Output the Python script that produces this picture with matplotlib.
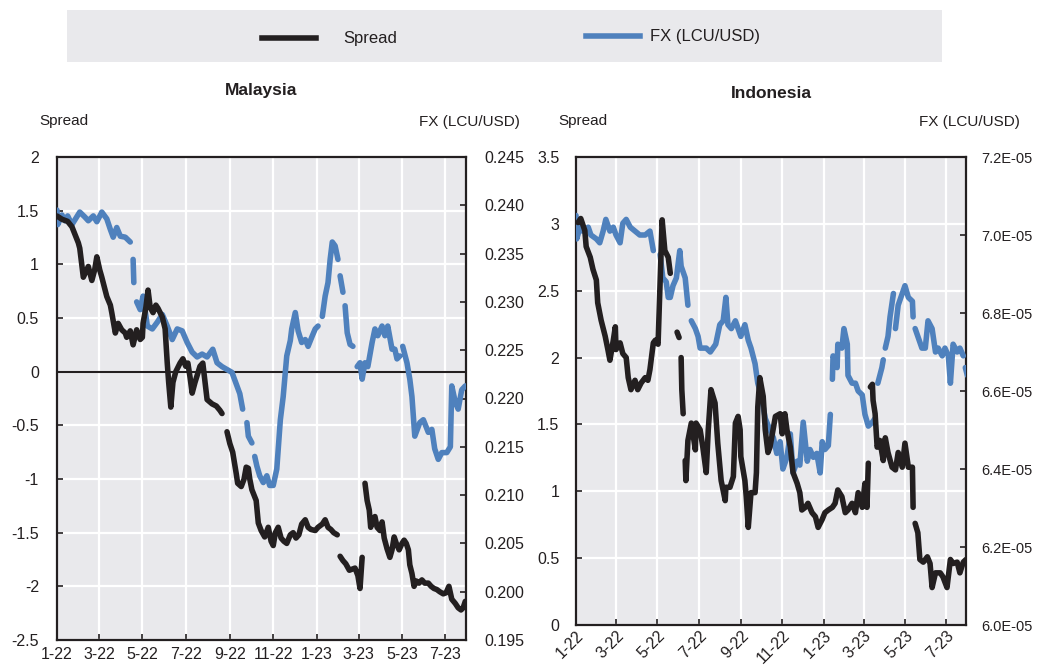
import numpy as np
import pandas as pd
import matplotlib
matplotlib.use('Agg')
import matplotlib.pyplot as plt
import matplotlib.dates as mdates
from matplotlib.ticker import FuncFormatter, FixedLocator
from matplotlib.lines import Line2D
from matplotlib.patches import Rectangle

plt.rcParams['font.family'] = ['Liberation Sans', 'DejaVu Sans']

nan = np.nan
START = pd.Timestamp('2022-01-01')
END = pd.Timestamp('2023-07-30')

# 数据: 2022-01-01 からの日数 と 値
my_spread_day = [0, 7, 15, 21, 30, 32, 37, 44, 49, 53, 56, 60, 63, 70, 75, 77, 82, 86, 91, 96,
                 98, 103, 107, 112, 117, 120, 121, 125, 128, 131, 135, 139, 142, 148, 152, 155, 157, 160, 163, 167,
                 173, 177, 181, 184, 187, 190, 194, 201, 205, 211, 218, 224, 229, 232, 235, 239, 243, 247, 252, 254,
                 259, 263, 266, 269, 271, 274, 280, 283, 287, 292, 297, 301, 304, 307, 311, 315, 319, 323, 328, 332,
                 336, 340, 344, 349, 353, 357, 363, 367, 373, 377, 381, 385, 389, 394, 396, 398, 402, 406, 411, 415,
                 419, 423, 426, 429, 431, 433, 436, 439, 441, 444, 447, 450, 454, 457, 460, 464, 468, 471, 474, 477,
                 481, 485, 488, 491, 494, 496, 499, 502, 505, 509, 513, 517, 522, 526, 530, 534, 538, 543, 547, 551,
                 555, 560, 564, 568, 571, 574]
my_spread = [1.45, 1.42, 1.40, 1.35, 1.20, 1.15, 0.88, 0.98, 0.85, 0.95, 1.07, 0.95, 0.88, 0.70, 0.62, 0.55, 0.36, 0.45, 0.39, 0.36,
             0.32, 0.38, 0.25, 0.39, 0.30, 0.32, 0.45, 0.60, 0.76, 0.60, 0.55, 0.62, 0.59, 0.51, 0.40, 0.08, -0.10, -0.33, -0.10, 0.00,
             0.08, 0.12, 0.05, 0.08, -0.05, -0.20, -0.10, 0.05, 0.08, -0.26, -0.30, -0.32, -0.36, -0.39, nan, -0.56, -0.67, -0.75, -0.95, -1.04,
             -1.07, -1.00, -0.89, -0.90, -1.00, -1.10, -1.20, -1.41, -1.48, -1.54, -1.45, -1.58, -1.62, -1.50, -1.45, -1.55, -1.58, -1.60, -1.52, -1.50,
             -1.55, -1.52, -1.42, -1.38, -1.45, -1.47, -1.48, -1.45, -1.42, -1.38, -1.45, -1.47, -1.50, -1.52, nan, -1.72, -1.76, -1.79, -1.85, -1.84,
             -1.83, -1.90, -2.02, -1.73, nan, -1.04, -1.20, -1.29, -1.45, -1.38, -1.35, -1.45, -1.48, -1.40, -1.55, -1.65, -1.73, -1.66, -1.54, -1.60,
             -1.66, -1.60, -1.57, -1.60, -1.66, -1.80, -1.88, -2.00, -1.95, -1.97, -1.94, -1.97, -1.97, -2.00, -2.02, -2.03, -2.05, -2.07, -2.06, -2.00,
             -2.12, -2.16, -2.20, -2.22, -2.20, -2.14]

my_fx_day = [0, 1, 7, 11, 15, 21, 32, 39, 44, 51, 56, 63, 70, 75, 79, 84, 89, 96, 103, 105,
             107, 108, 110, 112, 117, 121, 127, 134, 141, 148, 155, 162, 169, 176, 183, 190, 197, 204, 211, 219,
             225, 232, 239, 246, 252, 257, 261, 264, 267, 269, 274, 277, 278, 281, 285, 290, 295, 299, 304, 309,
             314, 318, 323, 328, 330, 335, 339, 344, 349, 353, 359, 363, 367, 370, 373, 377, 381, 384, 387, 391,
             395, 396, 398, 402, 404, 405, 408, 412, 416, 419, 422, 426, 429, 433, 437, 443, 447, 451, 457, 461,
             465, 471, 475, 478, 482, 484, 486, 492, 496, 499, 503, 510, 515, 522, 527, 531, 536, 541, 548, 553,
             555, 560, 564, 569, 574]
my_fx = [0.2395, 0.2380, 0.2390, 0.2384, 0.2389, 0.2380, 0.2393, 0.2388, 0.2384, 0.2389, 0.2383, 0.2393, 0.2386, 0.2375, 0.2367, 0.2377, 0.2368, 0.2367, 0.2362, nan,
         0.2344, 0.2320, nan, 0.2300, 0.2292, 0.2306, 0.2275, 0.2272, 0.2279, 0.2287, 0.2275, 0.2261, 0.2272, 0.2270, 0.2258, 0.2248, 0.2243, 0.2246, 0.2243, 0.2251,
         0.2237, 0.2233, 0.2230, 0.2227, 0.2215, 0.2205, 0.2189, nan, 0.2175, 0.2161, 0.2154, nan, 0.2140, 0.2130, 0.2120, 0.2113, 0.2120, 0.2110, 0.2110, 0.2127,
         0.2178, 0.2202, 0.2244, 0.2260, 0.2272, 0.2289, 0.2270, 0.2258, 0.2261, 0.2254, 0.2265, 0.2272, 0.2275, nan, 0.2285, 0.2306, 0.2320, 0.2344, 0.2362, 0.2358,
         0.2344, nan, 0.2327, 0.2310, nan, 0.2296, 0.2268, 0.2256, 0.2254, nan, 0.2233, 0.2237, 0.2220, 0.2237, 0.2233, 0.2258, 0.2272, 0.2265, 0.2275, 0.2265,
         0.2275, 0.2251, 0.2251, 0.2241, 0.2244, nan, 0.2254, 0.2237, 0.2220, 0.2202, 0.2161, 0.2175, 0.2178, 0.2165, 0.2168, 0.2148, 0.2137, 0.2144, 0.2144, 0.2150,
         0.2213, 0.2196, 0.2189, 0.2209, 0.2213]

id_spread_day = [3, 7, 13, 15, 21, 25, 30, 32, 37, 43, 47, 50, 55, 58, 59, 65, 69, 74, 77, 81,
                 87, 91, 96, 102, 106, 109, 114, 117, 121, 127, 131, 136, 139, 145, 149, 152, 153, 155, 156, 158,
                 159, 161, 162, 165, 170, 176, 177, 183, 187, 192, 195, 199, 205, 209, 214, 220, 221, 227, 232, 235,
                 239, 242, 243, 249, 251, 254, 258, 264, 266, 268, 271, 276, 279, 283, 286, 294, 301, 304, 308, 311,
                 316, 320, 326, 330, 333, 338, 342, 348, 353, 357, 363, 367, 372, 378, 382, 386, 392, 397, 401, 407,
                 412, 416, 422, 426, 429, 431, 432, 434, 437, 438, 441, 444, 448, 453, 456, 460, 466, 471, 475, 481,
                 485, 490, 496, 497, 499, 500, 504, 507, 512, 518, 522, 525, 530, 537, 541, 547, 552, 556, 562, 566,
                 571, 575]
id_spread = [3.01, 3.04, 2.95, 2.83, 2.75, 2.66, 2.58, 2.41, 2.28, 2.16, 2.06, 1.98, 2.13, 2.23, 2.06, 2.11, 2.03, 2.00, 1.85, 1.76,
             1.83, 1.76, 1.81, 1.85, 1.83, 1.91, 2.11, 2.13, 2.10, 3.03, 2.80, 2.75, 2.63, nan, 2.19, 2.15, nan, 2.00, 1.76, 1.58,
             nan, 1.23, 1.08, 1.38, 1.51, 1.31, 1.51, 1.46, 1.33, 1.14, 1.46, 1.76, 1.66, 1.36, 1.08, 0.93, 1.03, 1.03, 1.11, 1.51,
             1.56, 1.46, 1.26, 1.08, 0.96, 0.73, 0.99, 0.99, 1.14, 1.63, 1.85, 1.71, 1.46, 1.29, 1.33, 1.56, 1.58, 1.43, 1.58, 1.46,
             1.33, 1.14, 1.06, 0.99, 0.86, 0.88, 0.91, 0.84, 0.81, 0.73, 0.79, 0.84, 0.86, 0.88, 0.91, 1.01, 0.96, 0.84, 0.86, 0.91,
             0.84, 0.99, 0.88, 1.06, 0.88, 1.21, nan, 1.78, 1.80, 1.68, 1.58, 1.33, 1.38, 1.23, 1.40, 1.29, 1.18, 1.16, 1.29, 1.18,
             1.36, 1.18, 1.18, 0.88, nan, 0.76, 0.69, 0.49, 0.47, 0.51, 0.46, 0.28, 0.39, 0.39, 0.36, 0.28, 0.49, 0.46, 0.47, 0.39,
             0.47, 0.49]

id_fx_day = [0, 1, 6, 10, 18, 22, 30, 35, 40, 44, 50, 55, 59, 65, 69, 74, 80, 87, 94, 102,
             109, 114, 118, 124, 128, 133, 136, 139, 143, 148, 153, 155, 161, 165, 167, 170, 176, 180, 183, 187,
             192, 198, 202, 206, 212, 217, 221, 224, 229, 235, 239, 243, 249, 254, 258, 264, 268, 273, 279, 286,
             291, 296, 301, 305, 311, 316, 320, 326, 330, 335, 341, 345, 350, 355, 360, 363, 367, 372, 375, 376,
             378, 379, 385, 386, 392, 395, 400, 401, 407, 412, 416, 422, 426, 431, 437, 441, 443, 445, 451, 453,
             454, 456, 460, 463, 468, 469, 471, 475, 481, 485, 490, 496, 497, 499, 500, 504, 510, 515, 519, 525,
             530, 534, 540, 544, 549, 552, 556, 562, 566, 571, 573, 574, 577]
id_fx = np.array([7.05, 6.99, 7.02, 7.01, 7.02, 7.00, 6.99, 6.98, 7.01, 7.04, 7.01, 7.02, 7.00, 6.98, 7.03, 7.04, 7.02, 7.01, 7.00, 7.00,
                  7.01, 6.96, nan, 6.95, 6.89, 6.88, 6.84, 6.84, 6.87, 6.89, 6.96, 6.92, 6.89, 6.82, nan, 6.78, 6.76, 6.74, 6.71, 6.71,
                  6.71, 6.70, 6.71, 6.72, 6.77, 6.78, 6.84, 6.77, 6.76, 6.78, 6.76, 6.74, 6.77, 6.73, 6.71, 6.67, 6.62, 6.59, 6.53, 6.50,
                  6.48, 6.44, 6.47, 6.40, 6.43, 6.49, 6.39, 6.42, 6.41, 6.52, 6.42, 6.45, 6.43, 6.44, 6.39, 6.47, 6.45, 6.46, 6.54, nan,
                  6.63, 6.69, 6.66, 6.72, 6.71, 6.76, 6.72, 6.64, 6.62, 6.62, 6.60, 6.59, 6.54, 6.51, 6.52, 6.53, nan, 6.62, 6.66, 6.68,
                  nan, 6.71, 6.74, 6.79, 6.85, nan, 6.76, 6.82, 6.85, 6.87, 6.84, 6.83, 6.79, nan, 6.76, 6.74, 6.71, 6.71, 6.78, 6.76,
                  6.70, 6.71, 6.69, 6.71, 6.69, 6.62, 6.72, 6.70, 6.71, 6.69, nan, 6.66, 6.64]) * 1e-5

BLACK = '#231f20'
BLUE = '#4f81bd'
BG = '#e9e9ec'
W, H = 1043, 665
LW = 4.0


def to_dates(days):
    return START + pd.to_timedelta(days, unit='D')


def month_label(x, pos):
    d = mdates.num2date(x)
    return f"{d.month}-{d.strftime('%y')}"


def draw_panel(fig, px, title, title_y, sp_day, sp_val, fx_day, fx_val, sp_ticks, fx_ticks, fx_fmt,
               rotate, zero_line, lpad, rpad, fx_size):
    left, right, top, bottom = px
    rect = [left / W, 1 - bottom / H, (right - left) / W, (bottom - top) / H]

    ax = fig.add_axes(rect)
    ax.set_facecolor(BG)
    ax.set_xlim(START, END)
    ax.set_ylim(sp_ticks[0], sp_ticks[-1])
    ax.yaxis.set_major_locator(FixedLocator(sp_ticks))
    ax.yaxis.set_major_formatter(FuncFormatter(lambda v, p: f'{v:g}'))
    ax.xaxis.set_major_locator(mdates.MonthLocator(bymonth=range(1, 13, 2)))
    ax.xaxis.set_major_formatter(FuncFormatter(month_label))
    ax.grid(True, color='white', linewidth=1.6)
    ax.set_axisbelow(True)
    ax.tick_params(axis='both', direction='in', length=4, width=1.2, color=BLACK,
                   labelsize=11.5, labelcolor=BLACK)
    ax.tick_params(axis='y', pad=lpad)
    if rotate:
        ax.tick_params(axis='x', pad=2)
        for lab in ax.get_xticklabels():
            lab.set_rotation(45)
            lab.set_ha('right')
            lab.set_va('top')
            lab.set_rotation_mode('anchor')
    else:
        ax.tick_params(axis='x', pad=5)
    for s in ax.spines.values():
        s.set_color(BLACK)
        s.set_linewidth(1.6)
    if zero_line:
        ax.axhline(0, color=BLACK, linewidth=1.5)
        frac = (0 - sp_ticks[0]) / (sp_ticks[-1] - sp_ticks[0])
        sec = ax.secondary_xaxis(frac)
        sec.xaxis.set_major_locator(mdates.MonthLocator(bymonth=range(1, 13, 2)))
        sec.tick_params(axis='x', direction='out', length=4, width=1.2, color=BLACK,
                        labeltop=False, labelbottom=False)
        for s in sec.spines.values():
            s.set_visible(False)

    ax_fx = ax.twinx()
    ax_fx.set_ylim(fx_ticks[0], fx_ticks[-1])
    ax_fx.yaxis.set_major_locator(FixedLocator(fx_ticks))
    ax_fx.yaxis.set_major_formatter(FuncFormatter(fx_fmt))
    ax_fx.tick_params(axis='y', direction='in', length=4, width=1.2, color=BLACK,
                      labelsize=fx_size, labelcolor=BLACK, pad=rpad)
    ax_fx.plot(to_dates(fx_day), fx_val, color=BLUE, linewidth=LW,
               solid_capstyle='round', solid_joinstyle='round')
    for s in ax_fx.spines.values():
        s.set_visible(False)

    # spread line on its own layer so it sits above the FX line
    ax_sp = ax.twinx()
    ax_sp.set_ylim(ax.get_ylim())
    ax_sp.set_yticks([])
    for s in ax_sp.spines.values():
        s.set_visible(False)
    ax_sp.plot(to_dates(sp_day), sp_val, color=BLACK, linewidth=LW,
               solid_capstyle='round', solid_joinstyle='round')
    ax_sp.set_xlim(START, END)

    cx = (left + right) / 2
    fig.text(cx / W, 1 - title_y / H, title, ha='center', va='center', fontsize=12.5,
             fontweight='bold', color=BLACK)
    fig.text((left - 18) / W, 1 - 121 / H, 'Spread', ha='left', va='center',
             fontsize=11, color=BLACK)
    fig.text((right + 54) / W, 1 - 122 / H, 'FX (LCU/USD)', ha='right', va='center',
             fontsize=11, color=BLACK)
    return ax


fig = plt.figure(figsize=(W / 100, H / 100), dpi=100)

# legend band
fig.add_artist(Rectangle((67 / W, 1 - 62 / H), 875 / W, 52 / H, transform=fig.transFigure,
                         facecolor=BG, edgecolor='none'))
fig.add_artist(Line2D([262 / W, 316 / W], [1 - 38 / H, 1 - 38 / H], transform=fig.transFigure,
                      color=BLACK, linewidth=LW))
fig.text(343 / W, 1 - 39 / H, 'Spread', ha='left', va='center', fontsize=12, color=BLACK)
fig.add_artist(Line2D([586 / W, 640 / W], [1 - 36 / H, 1 - 36 / H], transform=fig.transFigure,
                      color=BLUE, linewidth=LW))
fig.text(650 / W, 1 - 36 / H, 'FX (LCU/USD)', ha='left', va='center', fontsize=12, color=BLACK)

draw_panel(fig, (57, 466, 157, 640), 'Malaysia', 90, my_spread_day, my_spread, my_fx_day, my_fx,
           [-2.5, -2, -1.5, -1, -0.5, 0, 0.5, 1, 1.5, 2],
           [0.195, 0.200, 0.205, 0.210, 0.215, 0.220, 0.225, 0.230, 0.235, 0.240, 0.245],
           lambda v, p: f'{v:.3f}', rotate=False, zero_line=True, lpad=13, rpad=13, fx_size=11.5)

draw_panel(fig, (576, 966, 157, 625), 'Indonesia', 93, id_spread_day, id_spread, id_fx_day, id_fx,
           [0, 0.5, 1, 1.5, 2, 2.5, 3, 3.5],
           [6.0e-5, 6.2e-5, 6.4e-5, 6.6e-5, 6.8e-5, 7.0e-5, 7.2e-5],
           lambda v, p: f'{v * 1e5:.1f}E-05', rotate=True, zero_line=False, lpad=12, rpad=11,
           fx_size=10.5)

fig.savefig('out.png', dpi=100)
